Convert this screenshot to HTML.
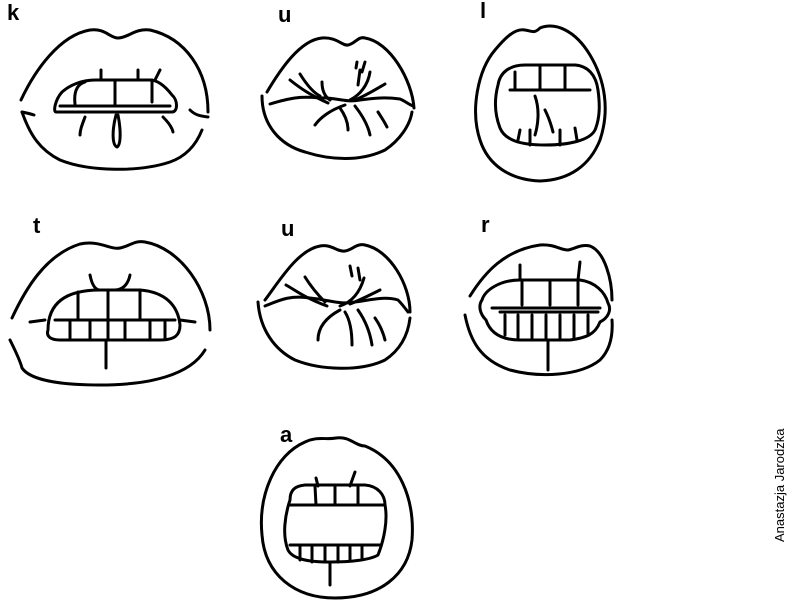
<!DOCTYPE html>
<html><head><meta charset="utf-8"><style>
html,body{margin:0;padding:0;background:#fff;width:800px;height:600px;overflow:hidden}
svg{display:block}
text{font-family:"Liberation Sans",sans-serif}
</style></head><body>
<svg width="800" height="600" viewBox="0 0 800 600" xmlns="http://www.w3.org/2000/svg">
<g fill="none" stroke="#000" stroke-width="3" stroke-linecap="round" stroke-linejoin="round">

<!-- k -->
<path d="M21,100 C35,70 60,35 90,30 C105,28 110,38 118,38 C128,38 135,28 150,30 C185,38 208,70 208,112"/>
<path d="M22,112 C30,135 40,150 60,160 C90,172 140,172 170,162 C190,155 198,140 202,130"/>
<path d="M22,112 C27,113 31,114 34,115"/>
<path d="M190,110 C195,115 200,116 208,117"/>
<path d="M56,112 L172,112 C178,112 178,100 172,95 C165,86 158,80 150,80 L95,80 C82,80 70,85 62,92 C55,100 53,112 56,112 Z"/>
<path d="M75,104 C74,95 75,85 85,82 M115,81 L115,106 M152,80 L152,102 M60,106 L170,106"/>
<path d="M101,70 L101,80 M138,70 L138,80 M160,70 L155,80"/>
<path d="M85,117 C82,125 80,130 80,135 M163,117 C168,122 172,127 173,132"/>
<path d="M116,115 C112,130 112,145 117,147 C121,145 121,130 118,115"/>

<!-- u top -->
<path d="M267,92 C280,70 300,40 322,38 C337,37 342,46 348,45 C355,44 358,36 365,38 C390,42 412,80 414,108"/>
<path d="M262,96 C262,125 280,145 305,152 C330,160 360,162 385,150 C400,140 410,125 412,112"/>
<path d="M270,104 C290,98 300,96 320,98 C335,97 345,103 360,100 C375,98 385,97 400,99 C405,101 408,104 413,106"/>
<path d="M290,80 C300,88 310,95 328,103 M300,74 C305,82 312,92 320,96 M322,82 C322,90 324,96 330,100 M356,68 L357,62 M358,85 L360,70 M365,62 L362,72 M370,72 C368,85 360,95 350,100 M385,84 C375,90 365,96 355,100 M345,105 C330,110 320,118 315,125 M340,108 C345,115 348,122 348,130 M355,106 C362,115 368,125 370,135 M378,112 C382,118 385,123 387,127"/>

<!-- l -->
<path d="M540,28 C555,22 575,30 590,55 C605,80 610,110 600,140 C590,165 570,180 540,181 C510,180 488,165 480,140 C470,110 478,70 495,50 C505,38 515,28 525,30 C532,31 534,34 540,28 Z"/>
<path d="M498,85 C500,72 510,65 525,65 L575,65 C588,66 596,75 598,90 C600,105 600,118 595,130 C590,140 570,145 545,145 C520,145 505,140 500,128 C495,115 494,100 498,85 Z"/>
<path d="M510,90 L590,90 M540,66 L540,90 M515,72 L515,90 M565,66 L565,90 M535,96 C540,110 538,125 535,135 M545,110 C550,120 552,128 553,132 M520,130 L518,140 M530,130 L530,145 M560,130 L560,145 M575,128 L577,140"/>

<!-- t -->
<path d="M12,318 C25,290 45,255 80,244 C100,240 110,250 120,248 C130,246 135,240 145,242 C180,248 210,290 210,330"/>
<path d="M10,340 C15,350 20,360 22,368 C30,380 60,385 100,385 C150,385 190,375 205,350"/>
<path d="M45,320 L30,322 M180,320 L195,322"/>
<path d="M48,330 C48,300 70,290 100,290 L140,290 C165,292 178,305 180,325 C180,335 175,340 160,340 L60,340 C50,340 46,336 48,330 Z"/>
<path d="M108,290 L108,340 M78,292 L78,320 M140,290 L140,320 M55,320 L175,320 M70,320 L70,340 M90,320 L90,340 M125,320 L125,340 M150,320 L150,340 M165,322 L165,338"/>
<path d="M90,275 C92,285 95,290 100,290 M130,275 C128,285 122,290 115,290"/>
<path d="M106,340 L106,368"/>

<!-- u middle -->
<path d="M265,300 C280,280 298,250 320,246 C332,244 337,252 345,251 C352,250 357,243 365,245 C390,250 410,285 410,312"/>
<path d="M258,302 C260,330 275,350 295,360 C320,370 360,372 385,360 C400,350 408,335 410,318"/>
<path d="M265,306 C280,300 290,295 310,298 C330,300 340,305 355,302 C370,300 385,296 398,300 C402,304 405,308 408,312"/>
<path d="M286,285 C295,290 305,298 327,306 M305,277 C310,285 318,295 325,302 M350,266 L352,276 M358,268 L360,280 M364,278 C360,292 352,302 340,306 M380,290 C370,295 360,300 350,304 M340,310 C325,318 318,328 318,340 M345,312 C350,320 352,330 352,345 M358,310 C365,320 370,332 372,345 M375,318 C380,325 383,332 385,340"/>

<!-- r -->
<path d="M470,296 C485,272 505,250 540,245 C555,244 560,250 568,250 C575,249 580,244 590,246 C605,252 612,280 612,300"/>
<path d="M465,315 C470,340 480,360 510,370 C540,378 580,376 600,360 C610,350 613,335 612,320"/>
<path d="M482,300 C485,290 500,280 520,280 L580,280 C595,282 605,292 608,303 C612,310 608,318 600,322 C595,335 585,338 570,340 L520,340 C500,340 490,332 486,320 C480,314 478,306 482,300 Z"/>
<path d="M520,265 L520,280 M580,262 L578,280 M492,308 L600,308 M522,280 L522,305 M550,282 L550,305 M578,282 L578,305 M500,312 L598,312 M505,315 L505,335 M518,315 L518,338 M532,315 L532,338 M546,315 L546,338 M560,315 L560,338 M574,315 L574,338 M588,315 L588,334"/>
<path d="M548,340 L548,370"/>

<!-- a -->
<path d="M336,438 C350,436 355,446 365,446 C400,460 415,500 412,540 C408,575 380,598 335,598 C295,598 265,575 262,535 C258,495 275,455 305,442 C318,436 325,440 336,438 Z"/>
<path d="M290,500 C290,490 295,486 305,485 L365,485 C378,486 385,495 385,505 C388,520 384,540 378,555 C370,560 350,562 330,562 C305,562 292,558 288,550 C282,535 285,515 290,500 Z"/>
<path d="M290,505 L385,505 M315,486 L316,505 M335,486 L335,505 M358,486 L358,505 M316,478 L318,486 M355,472 L350,486 M290,545 L380,545 M300,545 L300,560 M312,545 L312,562 M325,545 L325,562 M338,545 L338,562 M350,545 L350,560 M362,545 L362,558 M330,562 L330,585"/>
</g>
<g font-weight="bold" font-size="22" fill="#000">
<text x="7" y="20">k</text>
<text x="278" y="22">u</text>
<text x="480" y="18">l</text>
<text x="33" y="233">t</text>
<text x="281" y="236">u</text>
<text x="481" y="232">r</text>
<text x="280" y="442">a</text>
</g>
<text transform="translate(784,542) rotate(-90)" font-size="13" fill="#000">Anastazja Jarodzka</text>
</svg>
</body></html>
